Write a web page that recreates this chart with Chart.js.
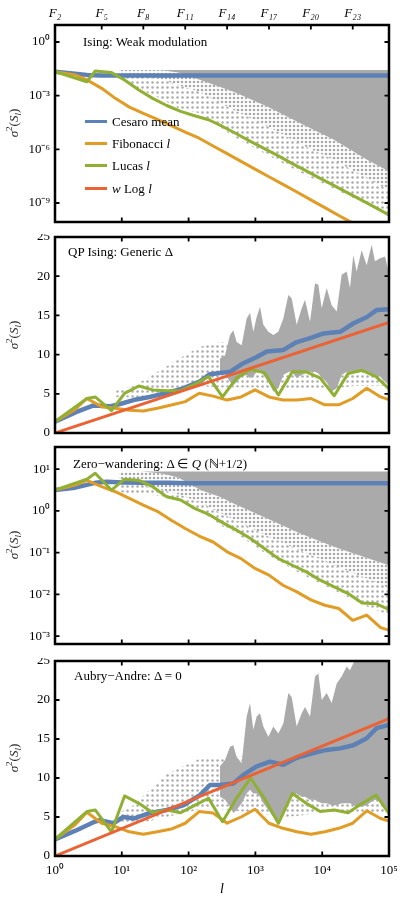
<!DOCTYPE html>
<html><head><meta charset="utf-8">
<script src="https://cdn.jsdelivr.net/npm/chart.js@4.4.1/dist/chart.umd.min.js"></script>
<style>
html,body{margin:0;padding:0;background:#fff;}
body{position:relative;width:400px;height:898px;overflow:hidden;font-family:"Liberation Serif","Times New Roman",serif;color:#000;}
canvas{position:absolute;left:0;}
.t{position:absolute;font-size:13px;line-height:13px;white-space:nowrap;}
.yl{position:absolute;font-size:13px;line-height:13px;white-space:nowrap;transform:translate(-50%,-50%) rotate(-90deg);color:#222;}
.yl sup,.yl sub{font-size:9px;line-height:0;}
.lg{position:absolute;left:85px;width:22px;height:3px;}
</style></head>
<body>
<canvas id="c1" width="400" height="225" style="top:0px"></canvas>
<canvas id="c2" width="400" height="202" style="top:234px"></canvas>
<canvas id="c3" width="400" height="203" style="top:444px"></canvas>
<canvas id="c4" width="400" height="240" style="top:658px"></canvas>

<div class="t" style="left:83px;top:35px">Ising: Weak modulation</div>
<div class="t" style="left:68px;top:245px">QP Ising: Generic Δ</div>
<div class="t" style="left:73px;top:457px">Zero−wandering: Δ ∈ <i>Q</i> (ℕ+1/2)</div>
<div class="t" style="left:74px;top:669px">Aubry−Andre: Δ = 0</div>

<div class="lg" style="top:120px;background:#5E81B5"></div>
<div class="t" style="left:112px;top:115px">Cesaro mean</div>
<div class="lg" style="top:142px;background:#E09C24"></div>
<div class="t" style="left:112px;top:137px">Fibonacci <i>l</i></div>
<div class="lg" style="top:164px;background:#8FB032"></div>
<div class="t" style="left:112px;top:159px">Lucas <i>l</i></div>
<div class="lg" style="top:187px;background:#EB6235"></div>
<div class="t" style="left:112px;top:182px"><i>w</i> Log <i>l</i></div>

<div class="yl" style="left:13px;top:123px"><i>σ</i><sup>2</sup>(<i>S</i><sub><i>l</i></sub>)</div>
<div class="yl" style="left:13px;top:335px"><i>σ</i><sup>2</sup>(<i>S</i><sub><i>l</i></sub>)</div>
<div class="yl" style="left:13px;top:545px"><i>σ</i><sup>2</sup>(<i>S</i><sub><i>l</i></sub>)</div>
<div class="yl" style="left:13px;top:758px"><i>σ</i><sup>2</sup>(<i>S</i><sub><i>l</i></sub>)</div>

<script>
// ---------- ticks ----------
const xTicks = [1, 10, 100, 1000, 10000, 100000];
const xLabels = ['10⁰', '10¹', '10²', '10³', '10⁴', '10⁵'];
const fibTicks = [1, 5, 21, 89, 377, 1597, 6765, 28657];
const fibLabels = ['F₂', 'F₅', 'F₈', 'F₁₁', 'F₁₄', 'F₁₇', 'F₂₀', 'F₂₃'];
const p1YTicks = [1, 1e-3, 1e-6, 1e-9];
const p1YLabels = ['10⁰', '10⁻³', '10⁻⁶', '10⁻⁹'];
const p3YTicks = [10, 1, 0.1, 0.01, 0.001];
const p3YLabels = ['10¹', '10⁰', '10⁻¹', '10⁻²', '10⁻³'];
const linTicks = [0, 5, 10, 15, 20, 25];
const p1YRange = [8.7e-11, 8.9];
const p3YRange = [6.5e-4, 33.9];
const linRange = [0, 25];

// ---------- sequence positions ----------
const fibL = [1,2,3,5,8,13,21,34,55,89,144,233,377,610,987,1597,2584,4181,6765,10946,17711,28657,46368,75025,121393];
const lucL = [1,3,4,7,11,18,29,47,76,123,199,322,521,843,1364,2207,3571,5778,9349,15127,24476,39603,64079,103682];
const logL = [1, 100000];

// ---------- panel 1: Ising weak modulation ----------
const p1Fib = [0.0219,0.0145,0.00759,0.00257,7.08e-4,2.29e-4,1.02e-4,4.68e-5,2.09e-5,9.3e-6,4.2e-6,1.55e-6,5.75e-7,2.14e-7,7.9e-8,2.95e-8,1.1e-8,4.1e-9,1.5e-9,5.5e-10,2.0e-10,7.6e-11,2.8e-11,1.05e-11,4e-12];
const p1Luc = [0.0219,0.00603,0.024,0.0195,0.00759,0.00209,7.08e-4,2.82e-4,1.32e-4,7.6e-5,4.5e-5,1.9e-5,7.4e-6,2.8e-6,1.1e-6,4.3e-7,1.6e-7,6.3e-8,2.4e-8,9.3e-9,3.6e-9,1.4e-9,5.4e-10,2.0e-10];
const p1CesL = [1, 2, 3, 5, 10, 100, 100000];
const p1Ces = [0.0219, 0.017, 0.0145, 0.0135, 0.0132, 0.0132, 0.0132];
const p1BandL = [9, 20, 40, 70, 150, 470, 1500, 4700, 15000, 47000, 100000];
const p1Hi = [0.0275,0.0275,0.0275,0.0275,0.0275,0.0275,0.0275,0.0275,0.0275,0.0275,0.0275];
const p1SolidLo = [0.0275,0.0275,0.0263,0.02,0.0076,0.00166,2.45e-4,2.9e-5,3.4e-6,2.6e-7,5.8e-8];
const p1MidLo = [0.02,0.0126,0.0079,0.004,0.0016,1.6e-4,2.0e-5,2.0e-6,2.5e-7,2.5e-8,5.0e-9];
const p1SparseLo = [0.01,0.002,6.3e-4,2.0e-4,1.0e-4,5.0e-6,5.0e-7,5.0e-8,6.3e-9,7.9e-10,2.5e-10];

// ---------- panel 2: QP Ising generic ----------
const p2Fib = [1.45,3.0,4.4,3.36,3.15,2.9,2.8,3.15,3.57,4.0,5.06,4.7,4.2,4.6,5.5,4.6,4.2,4.2,4.4,3.6,3.6,4.4,5.7,4.6,4.0];
const p2Luc = [1.45,4.4,4.6,2.85,5.06,6.0,5.5,5.4,5.4,6.2,7.2,4.6,7.0,8.1,7.7,4.85,7.8,7.8,7.0,4.75,7.6,8.0,7.2,5.5];
const p2CesL = [1,2.1,3.7,6.6,9.4,15,26,47,83,148,209,417,661,1047,1479,2630,4169,6607,10471,18621,29512,46774,66069,100000];
const p2Ces = [1.45,2.7,3.5,3.4,3.7,4.2,4.6,5.1,5.7,6.6,7.5,7.8,8.9,9.7,10.4,10.6,11.6,12.1,12.7,12.9,14.0,14.8,15.7,15.8];
const p2Log = [0, 14.1];
const sparseL = [8, 15, 26, 47, 83, 148, 300, 1000, 3000, 10000, 30000, 100000];
const p2SparseHi = [5.4,6.0,7.2,8.5,9.8,11.0,11.6,11.0,12.0,13.0,14.0,15.0];
const p2SparseLo = [4.6,4.5,4.9,5.2,5.5,6.0,5.8,5.8,5.5,5.5,6.0,6.0];
const denseL = [295,351,417,467,524,623,740,830,931,1045,1172,1315,1563,1855,2205,2620,3113,3493,4150,4930,5532,6569,7806,8756,9820,11670,13864,16475,19560,23240,26070,29240,32800,38990,46340,55060,61710,73310,87100,100000];
const p2DenseHi = [9.5,9.9,12.5,13.1,11.6,11.2,14.6,15.3,12.9,14.8,16.1,13.8,12.9,12.5,12.9,14.6,17.6,17.2,13.8,15.9,17.0,14.2,19.1,18.9,15.9,18.5,16.3,15.5,20.2,20.6,18.5,22.7,20.6,23.3,21.4,24.0,21.9,22.3,22.5,20.4];
const p2DenseLo = [7.8,7.6,6.5,6.1,6.5,7.2,7.4,7.0,7.2,7.8,7.8,7.4,6.5,5.3,5.7,7.4,7.8,7.8,7.0,7.4,7.6,7.8,7.8,7.6,7.0,6.5,5.3,5.7,7.4,7.8,7.8,7.8,7.8,8.0,7.8,7.6,7.4,7.2,6.5,6.1];

// ---------- panel 3: zero-wandering ----------
const p3Fib = [3.16,4.17,5.37,3.8,2.88,2.0,1.38,0.98,0.60,0.38,0.25,0.18,0.105,0.072,0.042,0.029,0.0166,0.0115,0.0074,0.0055,0.0046,0.0024,0.0032,0.0016,0.00126];
const p3Luc = [3.16,5.75,7.94,3.16,5.75,5.37,3.8,2.19,1.82,1.15,0.83,0.525,0.347,0.219,0.126,0.072,0.05,0.0347,0.0219,0.0151,0.0105,0.0062,0.006,0.0042];
const p3CesL = [1,2,3,4,6,10,20,50,100,1000,10000,100000];
const p3Ces = [3.16,3.6,4.2,4.7,5.0,4.8,4.7,4.7,4.6,4.6,4.6,4.6];
const p3BandL = [9, 20, 40, 70, 150, 300, 470, 1500, 4700, 15000, 52000, 100000];
const p3Hi = [8.8,8.8,8.8,8.8,8.8,8.8,8.8,8.8,8.8,8.8,8.8,8.8];
const p3SolidLo = [8.8,8.8,7.9,6.3,3.16,2.14,1.51,0.66,0.288,0.138,0.071,0.05];
const p3MidLo = [5.0,4.0,3.16,2.5,1.58,0.89,0.63,0.25,0.112,0.05,0.0224,0.0141];
const p3SparseLo = [2.8,2.5,2.24,1.9,1.0,0.45,0.32,0.089,0.0316,0.0126,0.0047,0.0032];

// ---------- panel 4: Aubry-Andre ----------
const p4Fib = [2.14,4.0,5.6,4.2,3.76,3.1,2.78,3.1,3.46,4.2,5.7,5.5,4.2,5.0,6.0,4.2,3.55,3.1,2.78,3.1,3.55,4.2,5.8,4.8,4.3];
const p4Luc = [2.14,5.7,5.9,3.1,7.7,6.75,5.55,5.9,5.55,6.5,7.4,4.4,7.4,10.0,7.4,4.2,8.0,6.75,5.7,5.9,5.55,6.75,7.8,5.25];
const p4CesL = [1,2.1,3.7,4.7,7.5,10.5,15,26,47,83,148,209,295,467,661,1045,1655,2620,4150,7360,11670,18460,29240,46340,65300,100000];
const p4Ces = [2.14,3.3,4.3,4.6,4.2,5.0,4.8,5.5,5.9,6.5,7.8,9.1,9.1,9.3,10.4,11.5,12.1,11.7,12.6,13.2,13.6,13.8,14.2,15.1,16.4,16.8];
const p4Log = [0, 17.6];
const p4SparseHi = [5.3,6.5,8.5,10.5,11.5,12.5,12.5,13,14,16,18,20];
const p4SparseLo = [4.5,4.0,4.5,5.0,5.5,6.0,6.0,5.5,5.0,5.5,5.5,5.5];
const p4DenseHi = [11.5,12.3,14.0,14.2,12.7,11.9,17.9,19.6,16.2,17.9,18.3,16.6,15.3,16.6,15.7,17.0,20.9,20.4,16.6,18.3,19.1,17.9,23.0,23.4,20.0,20.9,19.6,22.1,23.0,24.3,23.8,24.7,25.5,26,26,26,26,26,26,26];
const p4DenseLo = [7.6,7.2,6.3,5.5,5.9,6.75,8.0,8.5,8.0,8.0,7.6,6.75,5.9,5.0,4.6,5.9,7.2,7.6,8.0,7.6,7.6,7.2,7.2,7.0,6.75,6.75,6.5,6.5,6.75,6.75,6.75,6.5,6.3,6.3,6.5,7.0,7.2,7.0,6.3,5.9];

// ---------- styling ----------
const FONT = '"Liberation Serif", "Times New Roman", serif';
const C_BLUE = '#5E81B5', C_ORANGE = '#E09C24', C_GREEN = '#8FB032', C_RED = '#EB6235', C_GRAY = '#AAAAAA';

function dotPattern(cell, r) {
  const c = document.createElement('canvas');
  c.width = cell; c.height = cell;
  const g = c.getContext('2d');
  g.fillStyle = C_GRAY;
  g.beginPath(); g.arc(cell / 2, cell / 2, r, 0, Math.PI * 2); g.fill();
  return g.createPattern(c, 'repeat');
}
const PAT_DENSE = dotPattern(4, 1.3);
const PAT_SPARSE = dotPattern(5, 1.25);

const P = (xs, ys) => xs.map((x, i) => ({ x: x, y: ys[i] }));
const CLEAR = 'rgba(0,0,0,0)';
function bandSets(xs, hi, layers, baseOrder) {
  const out = [{ data: P(xs, hi), xAxisID: 'x', borderColor: CLEAR, borderWidth: 1, pointRadius: 0, fill: false, order: baseOrder }];
  layers.forEach((ly, i) => out.push({ data: P(xs, ly[0]), xAxisID: 'x', borderColor: CLEAR, borderWidth: 1, pointRadius: 0, fill: '-1', backgroundColor: ly[1], order: baseOrder - 1 - i }));
  return out;
}
const ln = (xs, ys, color, w, order) => ({ data: P(xs, ys), xAxisID: 'x', borderColor: color, borderWidth: w, pointRadius: 0, fill: false, tension: 0, order: order, borderJoinStyle: 'round' });

function lab(arr, labels, v) {
  const i = arr.findIndex(t => Math.abs(t - v) <= Math.abs(t) * 1e-6 + 1e-12);
  return i >= 0 ? labels[i] : '';
}

const framePlugin = {
  id: 'frame',
  afterDatasetsDraw(chart, args, o) {
    const ctx = chart.ctx, a = chart.chartArea, xs = chart.scales.x, ys = chart.scales.y;
    const L = 4.5;
    ctx.save();
    ctx.strokeStyle = '#000';
    ctx.lineWidth = 1.8;
    ctx.beginPath();
    (o.bottom || []).forEach(v => { const p = xs.getPixelForValue(v); ctx.moveTo(p, a.bottom); ctx.lineTo(p, a.bottom - L); });
    (o.top || []).forEach(v => { const p = xs.getPixelForValue(v); ctx.moveTo(p, a.top); ctx.lineTo(p, a.top + L); });
    (o.side || []).forEach(v => { const p = ys.getPixelForValue(v); ctx.moveTo(a.left, p); ctx.lineTo(a.left + L, p); ctx.moveTo(a.right, p); ctx.lineTo(a.right - L, p); });
    ctx.stroke();
    ctx.lineWidth = 2.5;
    ctx.strokeRect(a.left, a.top, a.right - a.left, a.bottom - a.top);
    ctx.restore();
  }
};

function xHidden() {
  return { type: 'logarithmic', min: xTicks[0], max: xTicks[xTicks.length - 1], bounds: 'data', display: false };
}
function yLog(range, ticks, labels) {
  return {
    type: 'logarithmic', min: range[0], max: range[1], bounds: 'data',
    grid: { display: false, drawTicks: false }, border: { display: false },
    ticks: { autoSkip: false, padding: 5, color: '#000', font: { family: FONT, size: 13 }, callback: v => lab(ticks, labels, v) },
    afterBuildTicks: s => { s.ticks = ticks.map(v => ({ value: v })); },
    afterFit: s => { s.width = 55; s.paddingTop = 0; s.paddingBottom = 0; }
  };
}
function yLin() {
  return {
    type: 'linear', min: linRange[0], max: linRange[1], bounds: 'data',
    grid: { display: false, drawTicks: false }, border: { display: false },
    ticks: { autoSkip: false, padding: 5, color: '#000', font: { family: FONT, size: 13 }, callback: v => String(v) },
    afterBuildTicks: s => { s.ticks = linTicks.map(v => ({ value: v })); },
    afterFit: s => { s.width = 55; s.paddingTop = 0; s.paddingBottom = 0; }
  };
}

function mk(id, datasets, scales, pad, frame) {
  return new Chart(document.getElementById(id), {
    type: 'line',
    data: { datasets: datasets },
    options: {
      responsive: false, animation: false, devicePixelRatio: 1, events: [],
      layout: { padding: { top: pad[0], right: 11, bottom: pad[1], left: 0 } },
      plugins: { legend: { display: false }, tooltip: { enabled: false }, frame: frame },
      scales: scales
    },
    plugins: [framePlugin]
  });
}

// ----- Panel 1 -----
mk('c1', [
  ...bandSets(p1BandL, p1Hi, [[p1SolidLo, C_GRAY], [p1MidLo, PAT_DENSE], [p1SparseLo, PAT_SPARSE]], 50),
  ln(p1CesL, p1Ces, C_BLUE, 4.5, 4),
  ln(fibL, p1Fib, C_ORANGE, 3, 3),
  ln(lucL, p1Luc, C_GREEN, 3, 2)
], {
  x: xHidden(),
  xt: {
    type: 'logarithmic', position: 'top', min: xTicks[0], max: xTicks[xTicks.length - 1], bounds: 'data',
    grid: { display: false, drawTicks: false }, border: { display: false },
    ticks: { autoSkip: false, maxRotation: 0, padding: 4, color: '#000', font: { family: FONT, size: 13, style: 'italic' }, callback: v => lab(fibTicks, fibLabels, v) },
    afterBuildTicks: s => { s.ticks = fibTicks.map(v => ({ value: v })); },
    afterFit: s => { s.height = 25; s.paddingLeft = 0; s.paddingRight = 0; }
  },
  y: yLog(p1YRange, p1YTicks, p1YLabels)
}, [0, 3], { bottom: xTicks, top: fibTicks, side: p1YTicks });

// ----- Panel 2 -----
mk('c2', [
  ...bandSets(sparseL, p2SparseHi, [[p2SparseLo, PAT_SPARSE]], 60),
  ...bandSets(denseL, p2DenseHi, [[p2DenseLo, C_GRAY]], 50),
  ln(p2CesL, p2Ces, C_BLUE, 4.5, 4),
  ln(fibL, p2Fib, C_ORANGE, 3, 3),
  ln(lucL, p2Luc, C_GREEN, 3, 2),
  ln(logL, p2Log, C_RED, 3, 1)
], { x: xHidden(), y: yLin() }, [3, 3], { bottom: xTicks, top: xTicks, side: linTicks });

// ----- Panel 3 -----
mk('c3', [
  ...bandSets(p3BandL, p3Hi, [[p3SolidLo, C_GRAY], [p3MidLo, PAT_DENSE], [p3SparseLo, PAT_SPARSE]], 50),
  ln(p3CesL, p3Ces, C_BLUE, 4.5, 4),
  ln(fibL, p3Fib, C_ORANGE, 3, 3),
  ln(lucL, p3Luc, C_GREEN, 3, 2)
], { x: xHidden(), y: yLog(p3YRange, p3YTicks, p3YLabels) }, [3, 3], { bottom: xTicks, top: xTicks, side: p3YTicks });

// ----- Panel 4 -----
mk('c4', [
  ...bandSets(sparseL, p4SparseHi, [[p4SparseLo, PAT_SPARSE]], 60),
  ...bandSets(denseL, p4DenseHi, [[p4DenseLo, C_GRAY]], 50),
  ln(p4CesL, p4Ces, C_BLUE, 4.5, 4),
  ln(fibL, p4Fib, C_ORANGE, 3, 3),
  ln(lucL, p4Luc, C_GREEN, 3, 2),
  ln(logL, p4Log, C_RED, 3, 1)
], {
  x: {
    type: 'logarithmic', position: 'bottom', min: xTicks[0], max: xTicks[xTicks.length - 1], bounds: 'data',
    grid: { display: false, drawTicks: false }, border: { display: false },
    ticks: { autoSkip: false, maxRotation: 0, padding: 7, color: '#000', font: { family: FONT, size: 13 }, callback: v => lab(xTicks, xLabels, v) },
    afterBuildTicks: s => { s.ticks = xTicks.map(v => ({ value: v })); },
    afterFit: s => { s.height = 42; s.paddingLeft = 0; s.paddingRight = 0; },
    title: { display: true, text: 'l', color: '#000', font: { family: FONT, size: 14, style: 'italic' }, padding: { top: 0, bottom: 0 } }
  },
  y: yLin()
}, [3, 0], { bottom: xTicks, top: xTicks, side: linTicks });
</script>
</body></html>
